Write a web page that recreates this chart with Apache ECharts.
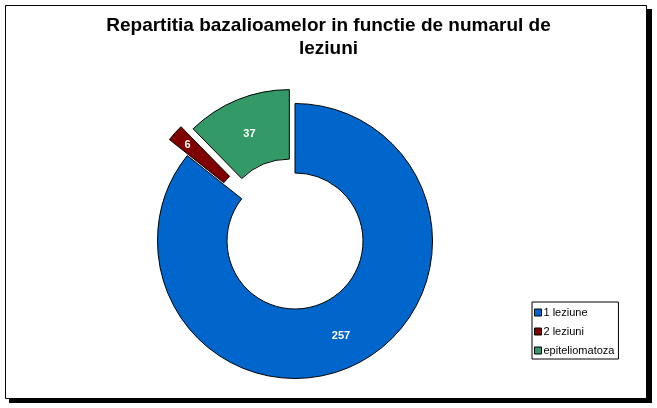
<!DOCTYPE html>
<html>
<head>
<meta charset="utf-8">
<script src="https://cdn.jsdelivr.net/npm/echarts@6/dist/echarts.min.js"></script>
<style>
  html, body { margin: 0; padding: 0; background: #fff; }
  #chart { width: 657px; height: 408px; }
</style>
</head>
<body>
<div id="chart"></div>
<script>
// date
const categories = ['1 leziune', '2 leziuni', 'epiteliomatoza']
const values = [257, 6, 37]
const colors = ['#0066CC', '#800000', '#339966']

// felii desprinse: index -> distanta (px)
const exploded = { 1: 24, 2: 15 }
// mici ajustari ale etichetelor, ca in original
const labelShift = { 1: [-11, -9], 2: [0, 5] }

const chart = echarts.init(document.getElementById('chart'))

const font = 'Liberation Sans, Arial, sans-serif'

// o serie pentru fiecare distanta de desprindere, restul feliilor transparente
function makeSeries(keep, offset, tag) {
  return {
    type: 'pie',
    center: [295, 241],
    radius: [68, 137.5],
    startAngle: 90,
    clockwise: true,
    avoidLabelOverlap: false,
    selectedMode: 'multiple',
    selectedOffset: offset,
    animation: false,
    emphasis: { disabled: true },
    label: {
      show: true,
      position: 'inside',
      formatter: '{c}',
      color: '#fff',
      fontFamily: font,
      fontWeight: 'bold',
      fontSize: 11
    },
    labelLine: { show: false },
    labelLayout: function (p) {
      const s = labelShift[p.dataIndex]
      return s ? { dx: s[0], dy: s[1] } : {}
    },
    data: values.map((v, i) => {
      if (keep.indexOf(i) < 0) {
        return {
          name: '_' + tag + i,
          value: v,
          itemStyle: { color: 'rgba(0,0,0,0)', borderWidth: 0 },
          label: { show: false }
        }
      }
      return {
        name: categories[i],
        value: v,
        selected: exploded[i] !== undefined,
        itemStyle: { color: colors[i], borderColor: '#000', borderWidth: 1 }
      }
    })
  }
}

const option = {
  backgroundColor: '#fff',
  title: {
    text: 'Repartitia bazalioamelor in functie de numarul de\nleziuni',
    left: 'center',
    top: 9,
    textStyle: {
      fontFamily: font,
      fontSize: 19,
      fontWeight: 'bold',
      color: '#000',
      lineHeight: 23
    }
  },
  legend: {
    orient: 'vertical',
    left: 532,
    top: 302,
    padding: [5, 4, 3, 2],
    itemGap: 8,
    itemWidth: 7,
    itemHeight: 7,
    icon: 'rect',
    selectedMode: false,
    borderColor: '#000',
    borderWidth: 1,
    backgroundColor: '#fff',
    itemStyle: { borderColor: '#000', borderWidth: 1 },
    textStyle: { fontFamily: font, fontSize: 11, color: '#000', lineHeight: 11, padding: [0, 0, 0, -3] },
    data: categories.map((c, i) => ({ name: c, itemStyle: { color: colors[i] } }))
  },
  graphic: [
    { type: 'rect', z: -10, shape: { x: 9, y: 9, width: 643, height: 394 }, style: { fill: '#000' } },
    { type: 'rect', z: -9, shape: { x: 5.5, y: 5.5, width: 641, height: 393 }, style: { fill: '#fff', stroke: '#000', lineWidth: 1 } }
  ],
  series: [
    makeSeries([0, 2], exploded[2], 'a'),
    makeSeries([1], exploded[1], 'b')
  ]
}

chart.setOption(option)
</script>
</body>
</html>
